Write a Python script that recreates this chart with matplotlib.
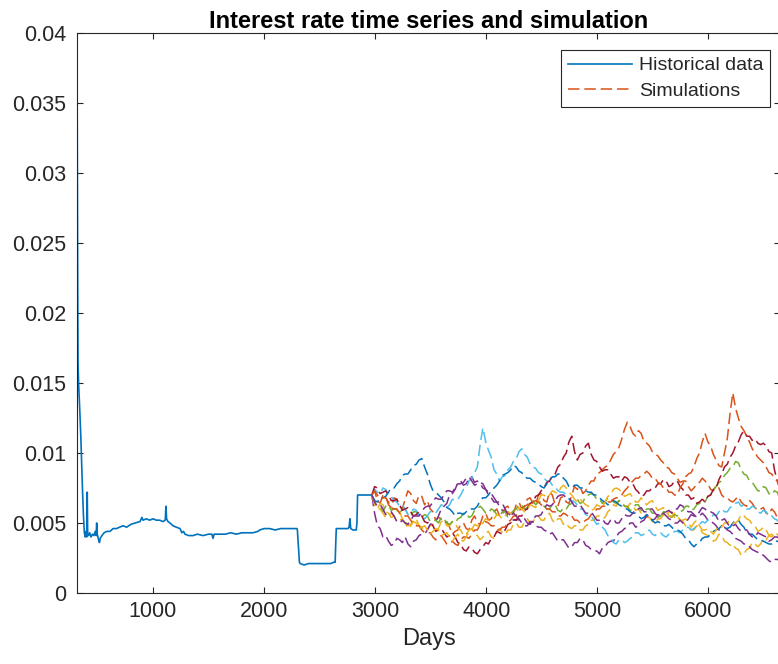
import numpy as np
import matplotlib
matplotlib.use("Agg")
import matplotlib.pyplot as plt

plt.rcParams['font.family'] = ['Liberation Sans', 'DejaVu Sans']

# Historical short rate (day index, basis points)
hist_days = [316, 319, 322, 325, 330, 340, 350, 358, 366, 374, 382, 390, 398, 403, 408,
             412, 420, 430, 442, 455, 468, 480, 488, 493, 498, 510, 518, 525, 540, 560,
             585, 613, 640, 670, 700, 730, 763, 800, 840, 883, 900, 910, 940, 970, 1000,
             1030, 1060, 1090, 1110, 1117, 1122, 1135, 1153, 1180, 1210, 1243, 1260, 1275,
             1288, 1320, 1360, 1400, 1450, 1500, 1530, 1540, 1550, 1600, 1650, 1700, 1750,
             1800, 1850, 1900, 1945, 1960, 2000, 2050, 2100, 2150, 2200, 2250, 2296, 2300,
             2305, 2312, 2318, 2325, 2360, 2400, 2450, 2500, 2550, 2600, 2630, 2640, 2645,
             2650, 2700, 2740, 2755, 2765, 2773, 2780, 2800, 2830, 2836, 2842, 2880, 2920,
             2950, 2970]
hist_bp = [385, 300, 220, 165, 150, 132, 112, 92, 72, 55, 43, 40, 44, 40, 72,
           42, 41, 43, 40, 42, 41, 44, 41, 50, 42, 38, 36, 39, 41, 43,
           44, 44, 46, 46, 47, 48, 47, 49, 50, 51, 54, 52, 53, 52, 53,
           52, 52, 51, 52, 62, 53, 51, 50, 48, 47, 46, 43, 44,
           42, 41, 41, 42, 41, 42, 42, 39, 42, 42, 42, 43, 42,
           43, 43, 43, 44, 45, 46, 46, 45, 46, 46, 46, 46, 45,
           38, 30, 22, 21, 20, 21, 21, 21, 21, 21, 22, 22, 35,
           46, 46, 46, 46, 47, 53, 46, 45, 45, 50, 70, 70, 70,
           70, 70]

# Simulated paths (basis points), one value every 25 days from day 2970
sim_start_day = 2970
sim_step_days = 25

sim_orange_a = [70, 73, 66, 64, 70, 69, 63, 61, 68, 67, 62, 60, 67, 73, 71, 66, 64, 70, 69, 63,
                66, 60, 58, 52, 54, 53, 50, 51, 47, 42, 44, 45, 49, 50, 46, 45, 52, 55, 50, 49,
                55, 57, 52, 53, 58, 60, 55, 56, 61, 62, 58, 57, 63, 65, 60, 62, 67, 68, 64, 63,
                70, 71, 66, 65, 72, 70, 63, 62, 68, 69, 65, 64, 70, 76, 74, 76, 71, 73, 77, 80,
                80, 85, 86, 88, 90, 91, 95, 99, 101, 104, 110, 117, 122, 119, 114, 112, 116, 114, 108, 107,
                105, 101, 99, 98, 95, 93, 90, 89, 86, 85, 82, 79, 80, 80, 76, 73, 75, 78, 79, 82,
                80, 78, 74, 73, 77, 75, 70, 68, 68, 66, 65, 67, 69, 65, 63, 62, 66, 64, 61, 59,
                60, 61, 57, 56, 60, 58, 54, 53, 55]
sim_yellow_a = [70, 64, 60, 64, 63, 58, 57, 54, 55, 59, 58, 53, 52, 48, 49, 52, 53, 48, 47, 44,
                45, 48, 49, 45, 46, 51, 52, 48, 48, 51, 50, 46, 45, 41, 42, 45, 46, 42, 41, 38,
                40, 43, 44, 40, 39, 44, 46, 43, 42, 45, 45, 49, 50, 47, 47, 51, 53, 50, 51, 54,
                55, 52, 52, 56, 57, 52, 50, 53, 53, 49, 50, 47, 46, 48, 48, 45, 45, 48, 49, 52,
                52, 55, 55, 53, 54, 58, 60, 63, 62, 66, 65, 62, 61, 64, 63, 59, 60, 57, 57, 54,
                54, 51, 50, 53, 53, 56, 55, 58, 58, 54, 55, 52, 51, 48, 48, 45, 45, 48, 47, 43,
                42, 41, 40, 37, 38, 42, 41, 37, 36, 34, 35, 32, 31, 27, 28, 31, 32, 36, 35, 33,
                35, 39, 38, 41, 42, 40, 39, 41, 40]
sim_purple_a = [70, 57, 48, 46, 40, 41, 37, 34, 35, 39, 38, 36, 40, 35, 33, 37, 38, 41, 42, 42,
                45, 49, 50, 51, 55, 60, 62, 64, 70, 71, 74, 79, 80, 77, 78, 82, 83, 79, 80, 78,
                75, 74, 70, 68, 65, 65, 62, 59, 58, 58, 55, 52, 52, 53, 50, 48, 48, 51, 51, 48,
                47, 47, 45, 44, 42, 43, 40, 37, 38, 38, 35, 32, 33, 36, 36, 39, 38, 34, 33, 31,
                30, 30, 28, 32, 33, 36, 37, 37, 40, 43, 44, 46, 47, 50, 50, 47, 48, 51, 52, 55,
                55, 52, 53, 56, 55, 57, 58, 59, 57, 60, 60, 63, 62, 59, 58, 58, 56, 54, 55, 57,
                55, 52, 51, 50, 48, 45, 46, 47, 45, 44, 42, 39, 38, 37, 35, 35, 33, 31, 30, 29,
                27, 27, 25, 23, 22, 24, 24, 23, 25]
sim_green = [70, 64, 62, 61, 58, 62, 63, 59, 60, 60, 57, 60, 60, 56, 55, 58, 58, 55, 54, 56,
             55, 51, 52, 52, 50, 54, 53, 50, 49, 51, 50, 53, 54, 57, 57, 54, 55, 59, 60, 62,
             60, 57, 57, 60, 59, 56, 55, 58, 58, 54, 55, 59, 60, 63, 63, 60, 61, 65, 66, 63,
             65, 65, 62, 60, 60, 63, 63, 59, 58, 61, 60, 63, 64, 67, 67, 64, 65, 69, 70, 71,
             70, 67, 67, 64, 65, 68, 68, 65, 64, 66, 65, 62, 62, 59, 60, 63, 63, 59, 58, 60,
             60, 57, 57, 54, 55, 58, 58, 55, 54, 56, 55, 58, 59, 62, 62, 59, 60, 63, 64, 66,
             65, 69, 70, 74, 76, 79, 80, 84, 86, 89, 90, 94, 93, 88, 85, 84, 80, 79, 76, 73,
             73, 76, 75, 71, 70, 73, 72, 67, 65]
sim_lightblue = [70, 74, 72, 71, 75, 74, 70, 69, 66, 65, 62, 63, 60, 56, 57, 60, 59, 56, 55, 53,
                 55, 58, 58, 57, 60, 63, 62, 61, 63, 67, 66, 67, 70, 74, 75, 80, 82, 86, 90, 106,
                 118, 108, 102, 97, 88, 85, 80, 83, 84, 88, 90, 94, 96, 101, 103, 99, 97, 92, 90, 89,
                 86, 85, 82, 80, 80, 77, 76, 73, 72, 72, 70, 67, 66, 65, 63, 60, 60, 56, 55, 55,
                 52, 49, 50, 47, 45, 41, 40, 36, 35, 38, 38, 36, 37, 39, 40, 43, 43, 41, 42, 44,
                 45, 42, 41, 43, 43, 41, 40, 42, 42, 44, 44, 43, 45, 47, 47, 45, 46, 48, 49, 51,
                 50, 52, 53, 56, 55, 58, 60, 58, 58, 61, 62, 64, 65, 62, 63, 60, 60, 62, 61, 58,
                 57, 59, 58, 55, 55, 53, 52, 50, 50]
sim_darkred = [70, 76, 75, 71, 72, 73, 70, 66, 66, 67, 63, 59, 60, 61, 58, 55, 56, 58, 55, 51,
               50, 51, 48, 44, 45, 46, 43, 40, 41, 43, 40, 36, 35, 31, 30, 33, 32, 29, 28, 31,
               33, 36, 35, 39, 40, 44, 43, 42, 45, 49, 50, 53, 52, 55, 55, 59, 60, 64, 65, 69,
               70, 73, 75, 79, 80, 84, 85, 90, 92, 97, 100, 108, 112, 101, 95, 99, 100, 105, 107, 99,
               95, 94, 90, 87, 88, 88, 85, 82, 83, 83, 80, 83, 82, 79, 78, 74, 72, 69, 70, 73,
               73, 75, 75, 78, 78, 81, 80, 76, 77, 80, 80, 76, 74, 70, 70, 67, 68, 64, 65, 67,
               65, 69, 70, 74, 75, 81, 85, 90, 92, 97, 100, 105, 108, 113, 116, 112, 112, 109, 110, 107,
               106, 107, 105, 101, 100, 88, 80, 74, 70]
sim_blue = [70, 66, 65, 68, 68, 69, 72, 75, 75, 78, 80, 84, 85, 85, 88, 91, 92, 95, 96, 90,
            85, 78, 73, 72, 70, 68, 65, 61, 60, 58, 55, 57, 57, 56, 58, 60, 60, 60, 62, 66,
            68, 68, 70, 73, 75, 77, 80, 84, 85, 86, 88, 91, 90, 87, 86, 83, 82, 82, 80, 79,
            78, 76, 75, 78, 80, 83, 83, 85, 85, 82, 80, 76, 75, 77, 77, 75, 75, 73, 72, 72,
            70, 70, 68, 66, 65, 63, 64, 66, 65, 63, 62, 60, 60, 58, 57, 57, 55, 53, 54, 56,
            55, 52, 50, 51, 50, 48, 48, 49, 47, 45, 45, 44, 42, 39, 38, 35, 33, 35, 36, 39,
            40, 40, 42, 44, 45, 46, 48, 48, 46, 47, 50, 52, 52, 49, 47, 43, 42, 42, 40, 38,
            38, 37, 36, 35, 35, 37, 37, 36, 38]
sim_orange_b = [70, 73, 70, 67, 68, 68, 65, 61, 60, 60, 57, 55, 55, 55, 52, 49, 48, 48, 45, 43,
                43, 43, 40, 38, 40, 41, 38, 35, 35, 37, 35, 34, 38, 40, 40, 39, 42, 45, 45, 49,
                50, 51, 50, 48, 48, 45, 45, 47, 47, 51, 52, 55, 55, 59, 60, 62, 63, 65, 65, 66,
                65, 63, 62, 60, 60, 58, 58, 55, 55, 57, 56, 54, 55, 52, 52, 50, 50, 52, 53, 56,
                57, 60, 60, 62, 62, 65, 65, 67, 68, 68, 70, 73, 75, 78, 80, 82, 82, 84, 85, 87,
                85, 82, 82, 79, 78, 75, 75, 72, 72, 70, 70, 75, 78, 83, 85, 86, 90, 96, 100, 108,
                114, 108, 105, 99, 95, 91, 90, 100, 110, 128, 143, 132, 125, 119, 116, 112, 108, 103, 100, 97,
                95, 93, 90, 86, 85, 82, 80, 77, 75]
sim_yellow_b = [70, 63, 60, 60, 57, 54, 55, 57, 55, 51, 52, 53, 50, 46, 48, 51, 50, 46, 47, 48,
                45, 42, 44, 46, 45, 41, 42, 43, 40, 37, 40, 42, 38, 37, 40, 44, 45, 49, 48, 47,
                50, 53, 52, 51, 53, 56, 55, 53, 55, 58, 57, 56, 58, 61, 60, 58, 60, 63, 62, 61,
                66, 70, 70, 68, 70, 73, 72, 71, 75, 77, 75, 72, 70, 67, 65, 67, 65, 63, 62, 59,
                60, 63, 62, 61, 65, 69, 70, 74, 75, 74, 72, 69, 70, 71, 68, 65, 65, 68, 65, 63,
                65, 66, 62, 59, 60, 61, 58, 55, 55, 57, 55, 52, 52, 53, 50, 47, 50, 52, 48, 45,
                45, 46, 44, 42, 45, 48, 47, 50, 50, 52, 50, 50, 52, 56, 55, 53, 52, 49, 48, 44,
                45, 47, 45, 41, 40, 43, 42, 39, 40]
sim_purple_b = [70, 65, 62, 63, 60, 56, 57, 58, 55, 51, 50, 52, 50, 49, 52, 55, 55, 55, 58, 61,
                62, 62, 65, 68, 67, 67, 70, 73, 73, 72, 75, 78, 78, 79, 82, 83, 80, 77, 78, 79,
                78, 74, 72, 71, 68, 65, 65, 64, 60, 56, 55, 57, 55, 52, 52, 53, 50, 49, 52, 55,
                55, 56, 60, 63, 62, 63, 66, 69, 70, 70, 68, 68, 65, 62, 62, 63, 60, 57, 57, 58,
                55, 52, 52, 53, 50, 49, 52, 53, 50, 50, 53, 56, 55, 55, 57, 60, 60, 61, 58, 58,
                60, 60, 57, 55, 55, 57, 55, 53, 52, 50, 50, 52, 50, 50, 53, 56, 55, 55, 58, 61,
                60, 58, 58, 57, 55, 51, 52, 53, 50, 47, 48, 49, 46, 44, 45, 45, 42, 40, 40, 43,
                42, 41, 40, 37, 38, 40, 40, 37, 38]

sim_paths = [sim_orange_a, sim_yellow_a, sim_purple_a, sim_green, sim_lightblue,
             sim_darkred, sim_blue, sim_orange_b, sim_yellow_b, sim_purple_b]

x_ticks = [1000, 2000, 3000, 4000, 5000, 6000]
y_ticks = [0, 0.005, 0.01, 0.015, 0.02, 0.025, 0.03, 0.035, 0.04]
y_tick_labels = ['0', '0.005', '0.01', '0.015', '0.02', '0.025', '0.03', '0.035', '0.04']

line_colors = ['#0072BD', '#D95319', '#EDB120', '#7E2F8E', '#77AC30', '#4DBEEE', '#A2142F']
ink = '#262626'

fig = plt.figure(figsize=(7.78, 6.64), dpi=100)
ax = fig.add_axes([0.099, 0.107, 0.9036, 0.843])

ax.plot(hist_days, np.array(hist_bp) / 1e4, color=line_colors[0], lw=1.2,
        label='Historical data')

for k, path in enumerate(sim_paths):
    days = sim_start_day + sim_step_days * np.arange(len(path))
    ax.plot(days, np.array(path) / 1e4, color=line_colors[(k + 1) % 7], lw=1.1,
            linestyle=(0, (7.5, 3.2)), label='Simulations' if k == 0 else None)

ax.set_xlim(316, 6645)
ax.set_ylim(0, 0.04)
ax.set_xticks(x_ticks)
ax.set_yticks(y_ticks)
ax.set_yticklabels(y_tick_labels)

ax.tick_params(direction='in', length=4, width=0.8, top=True, right=True,
               labelsize=15.5, color=ink, labelcolor=ink)
ax.tick_params(axis='y', pad=8)
ax.tick_params(axis='x', pad=6)
for s in ax.spines.values():
    s.set_color(ink)
    s.set_linewidth(0.8)

ax.set_title('Interest rate time series and simulation', fontsize=17,
             fontweight='bold', color='black', pad=4)
ax.set_xlabel('Days', fontsize=17, color=ink, labelpad=4)

leg = ax.legend(loc='upper right', bbox_to_anchor=(770 / 778, 1 - 50 / 664),
                bbox_transform=fig.transFigure, borderaxespad=0, fontsize=14,
                fancybox=False, framealpha=1, edgecolor=ink, handlelength=3.3,
                handletextpad=0.35, labelspacing=0.4, borderpad=0.35)
leg.get_frame().set_linewidth(0.8)
for t in leg.get_texts():
    t.set_color(ink)

fig.savefig('out.png', dpi=100)
